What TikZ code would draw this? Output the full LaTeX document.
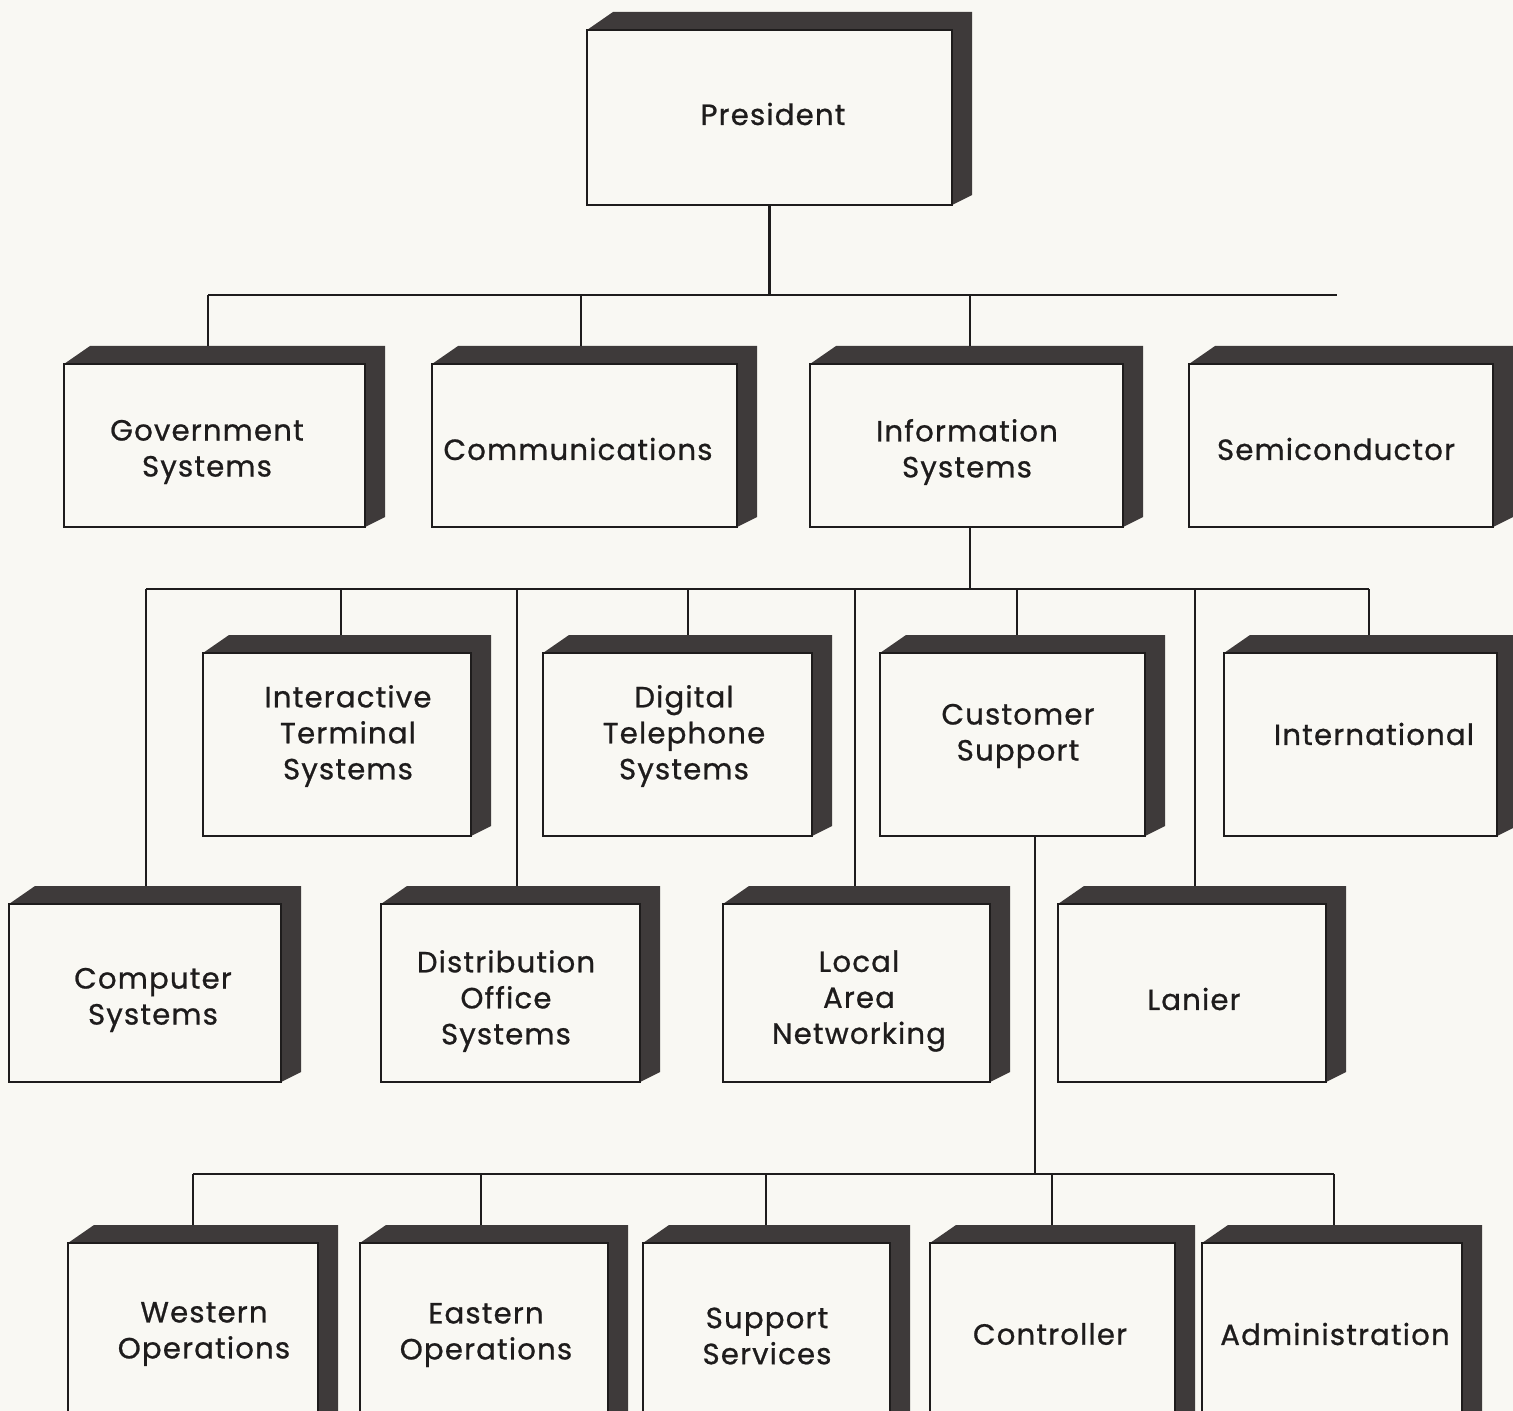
\documentclass[tikz,border=0pt]{standalone}
\usepackage{fontspec}
\setmainfont{Poppins}[LetterSpace=4, FakeBold=0.8]
\usetikzlibrary{fit}

\definecolor{paper}{RGB}{249,248,243}
\definecolor{sidegray}{RGB}{62,58,58}
\definecolor{ink}{RGB}{30,28,28}

\tikzset{
  face/.style={draw=ink, line width=1.3pt, fill=paper, inner sep=0pt},
  side/.style={fill=sidegray},
  wire/.style={draw=ink, line width=1.1pt},
  lbl/.style={font=\fontsize{14.6}{18}\selectfont, text=ink, align=center, inner sep=0pt},
}

% \obox{name}{x1}{y1}{x2}{y2}{(text position)}{text}
% front face from (x1,y1) to (x2,y2), dark extruded top and right sides
\newcommand\obox[7]{%
  \path[side] (#2,#3) -- (#2+26,#3-18) -- (#4+20,#3-18) -- (#4+20,#5-10) -- (#4,#5) -- cycle;
  \coordinate (#1-nw) at (#2,#3);
  \coordinate (#1-se) at (#4,#5);
  \coordinate (#1-top) at (#2+26,#3-18);
  \node[face, fit=(#1-nw)(#1-se)] (#1) {};
  \node[lbl] (#1-text) at #6 {#7};
}

\begin{document}
\begin{tikzpicture}[x=0.5pt, y=-0.5pt]
  \useasboundingbox (0,0) rectangle (1513,1411);
  \fill[paper] (0,0) rectangle (1513,1411);
  \clip (0,0) rectangle (1513,1411);

  % top level
  \obox{pres}{587}{30}{952}{205}{(773,114)}{President}

  % divisions
  \obox{gov}{64}{364}{365}{527}{(207,452)}{Government\\Systems}
  \obox{comm}{432}{364}{737}{527}{(578,449)}{Communications}
  \obox{info}{810}{364}{1123}{527}{(967,452)}{Information\\Systems}
  \obox{semi}{1189}{364}{1493}{527}{(1336,449)}{Semiconductor}

  % Information Systems groups, upper row
  \obox{iterm}{203}{653}{471}{836}{(348,736)}{Interactive\\Terminal\\Systems}
  \obox{dtel}{543}{653}{812}{836}{(684,736)}{Digital\\Telephone\\Systems}
  \obox{cust}{880}{653}{1145}{836}{(1018,736)}{Customer\\Support}
  \obox{intl}{1224}{653}{1497}{836}{(1374,734)}{International}

  % Information Systems groups, lower row
  \obox{comp}{9}{904}{281}{1082}{(153,1000)}{Computer\\Systems}
  \obox{dist}{381}{904}{640}{1082}{(506,1001)}{Distribution\\Office\\Systems}
  \obox{lan}{723}{904}{990}{1082}{(859,1001)}{Local\\Area\\Networking}
  \obox{lanier}{1058}{904}{1326}{1082}{(1194,999)}{Lanier}

  % Customer Support units
  \obox{west}{68}{1243}{318}{1450}{(204,1334)}{Western\\Operations}
  \obox{east}{360}{1243}{608}{1450}{(486,1335)}{Eastern\\Operations}
  \obox{supp}{643}{1243}{890}{1450}{(767,1336)}{Support\\Services}
  \obox{ctrl}{930}{1243}{1175}{1450}{(1050,1334)}{Controller}
  \obox{admin}{1202}{1243}{1462}{1450}{(1335,1334)}{Administration}

  % bus under the President
  \coordinate (a0) at (769.5,295);
  \coordinate (aL) at (208,295);
  \coordinate (aR) at (1337,295);
  \coordinate (a2) at (581,295);
  \coordinate (a3) at (970,295);
  \draw[wire] (pres.south) -- (a0);
  \draw[wire] (aL) -- (aR);
  \draw[wire] (aL) -- (aL |- gov-top);
  \draw[wire] (a2) -- (a2 |- comm-top);
  \draw[wire] (a3) -- (a3 |- info-top);

  % bus under Information Systems
  \coordinate (b0) at (970,589);
  \coordinate (b1) at (146,589);
  \coordinate (b2) at (341,589);
  \coordinate (b3) at (517,589);
  \coordinate (b4) at (688,589);
  \coordinate (b5) at (855,589);
  \coordinate (b6) at (1017,589);
  \coordinate (b7) at (1195,589);
  \coordinate (b8) at (1369,589);
  \draw[wire] (b0 |- info.south) -- (b0);
  \draw[wire] (b1) -- (b8);
  \draw[wire] (b1) -- (b1 |- comp-top);
  \draw[wire] (b2) -- (b2 |- iterm-top);
  \draw[wire] (b3) -- (b3 |- dist-top);
  \draw[wire] (b4) -- (b4 |- dtel-top);
  \draw[wire] (b5) -- (b5 |- lan-top);
  \draw[wire] (b6) -- (b6 |- cust-top);
  \draw[wire] (b7) -- (b7 |- lanier-top);
  \draw[wire] (b8) -- (b8 |- intl-top);

  % bus under Customer Support
  \coordinate (c0) at (1035,1174);
  \coordinate (c1) at (193,1174);
  \coordinate (c2) at (481,1174);
  \coordinate (c3) at (766,1174);
  \coordinate (c4) at (1052,1174);
  \coordinate (c5) at (1334,1174);
  \draw[wire] (c0 |- cust.south) -- (c0);
  \draw[wire] (c1) -- (c5);
  \draw[wire] (c1) -- (c1 |- west-top);
  \draw[wire] (c2) -- (c2 |- east-top);
  \draw[wire] (c3) -- (c3 |- supp-top);
  \draw[wire] (c4) -- (c4 |- ctrl-top);
  \draw[wire] (c5) -- (c5 |- admin-top);
\end{tikzpicture}
\end{document}
